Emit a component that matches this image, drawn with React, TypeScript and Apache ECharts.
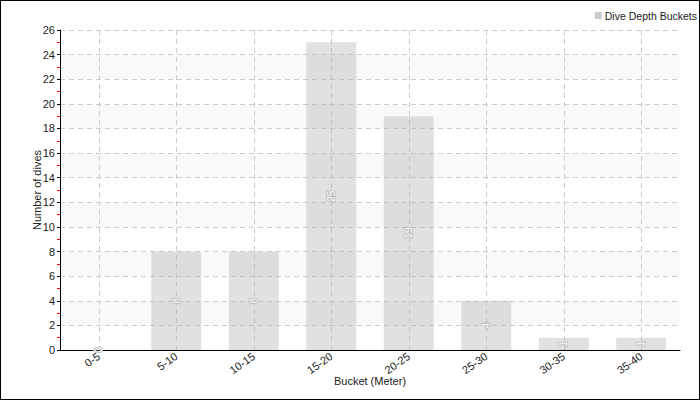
import React, { useEffect, useRef } from "react";
import * as echarts from "echarts";

const categories = ["0-5", "5-10", "10-15", "15-20", "20-25", "25-30", "30-35", "35-40"];
const dives = [0, 8, 8, 25, 19, 4, 1, 1];
const seriesName = "Dive Depth Buckets";
const FONT = "Liberation Sans";

export default function App() {
  const ref = useRef<HTMLDivElement>(null);
  useEffect(() => {
    document.body.style.margin = "0";
    const chart = echarts.init(ref.current!, null, { renderer: "svg" });
    chart.setOption({
      animation: false,
      textStyle: { fontFamily: FONT },
      legend: {
        right: 0,
        top: 9,
        padding: [0, 2, 0, 0],
        icon: "rect",
        itemWidth: 7,
        itemHeight: 7,
        itemGap: 4,
        textStyle: { fontSize: 10.5, color: "#222", fontFamily: FONT, padding: [0, 0, 0, -2] },
        data: [{ name: seriesName, itemStyle: { color: "#cccccc" } }],
      },
      grid: { left: 59, right: 19, top: 29, bottom: 49 },
      xAxis: {
        type: "category",
        data: categories,
        name: "Bucket (Meter)",
        nameLocation: "middle",
        nameGap: 25,
        nameMoveOverlap: false,
        nameTextStyle: { fontSize: 11, color: "#222", fontFamily: FONT },
        axisLine: { lineStyle: { color: "#000", width: 1 } },
        axisTick: { alignWithLabel: true, length: 3, lineStyle: { color: "#000" } },
        axisLabel: { rotate: 35, fontSize: 11, color: "#222", margin: 5, fontFamily: FONT },
        splitLine: { show: true, alignWithLabel: true, lineStyle: { color: "#cccccc", type: [5, 4] } },
      },
      yAxis: {
        type: "value",
        min: 0,
        max: 26,
        interval: 2,
        name: "Number of dives",
        nameLocation: "middle",
        nameGap: 18,
        nameMoveOverlap: false,
        nameTextStyle: { fontSize: 11, color: "#222", fontFamily: FONT },
        axisLine: { show: true, lineStyle: { color: "#000", width: 1 } },
        axisTick: { show: true, length: 3, lineStyle: { color: "#000" } },
        minorTick: { show: true, splitNumber: 2, length: 3, lineStyle: { color: "#ff0000" } },
        axisLabel: { fontSize: 11, color: "#222", margin: 5, fontFamily: FONT },
        splitLine: { show: true, lineStyle: { color: "#cccccc", type: [5, 4] } },
        splitArea: { show: true, areaStyle: { color: ["rgba(255,255,255,0)", "#f9f9f9"] } },
      },
      series: [
        {
          name: seriesName,
          type: "bar",
          data: dives,
          barWidth: 50,
          itemStyle: { color: "rgba(180,180,180,0.4)" },
          z: 1,
          label: {
            show: true,
            position: "inside",
            rotate: 90,
            fontSize: 10,
            color: "#ffffff",
            textBorderColor: "#b8b8b8",
            textBorderWidth: 1.5,
          },
        },
      ],
    });
    return () => chart.dispose();
  }, []);
  return (
    <div
      style={{
        position: "absolute",
        left: 0,
        top: 0,
        width: 700,
        height: 400,
        border: "1px solid #000",
        boxSizing: "border-box",
        background: "#fff",
      }}
    >
      <div ref={ref} style={{ width: 698, height: 398 }} />
    </div>
  );
}
